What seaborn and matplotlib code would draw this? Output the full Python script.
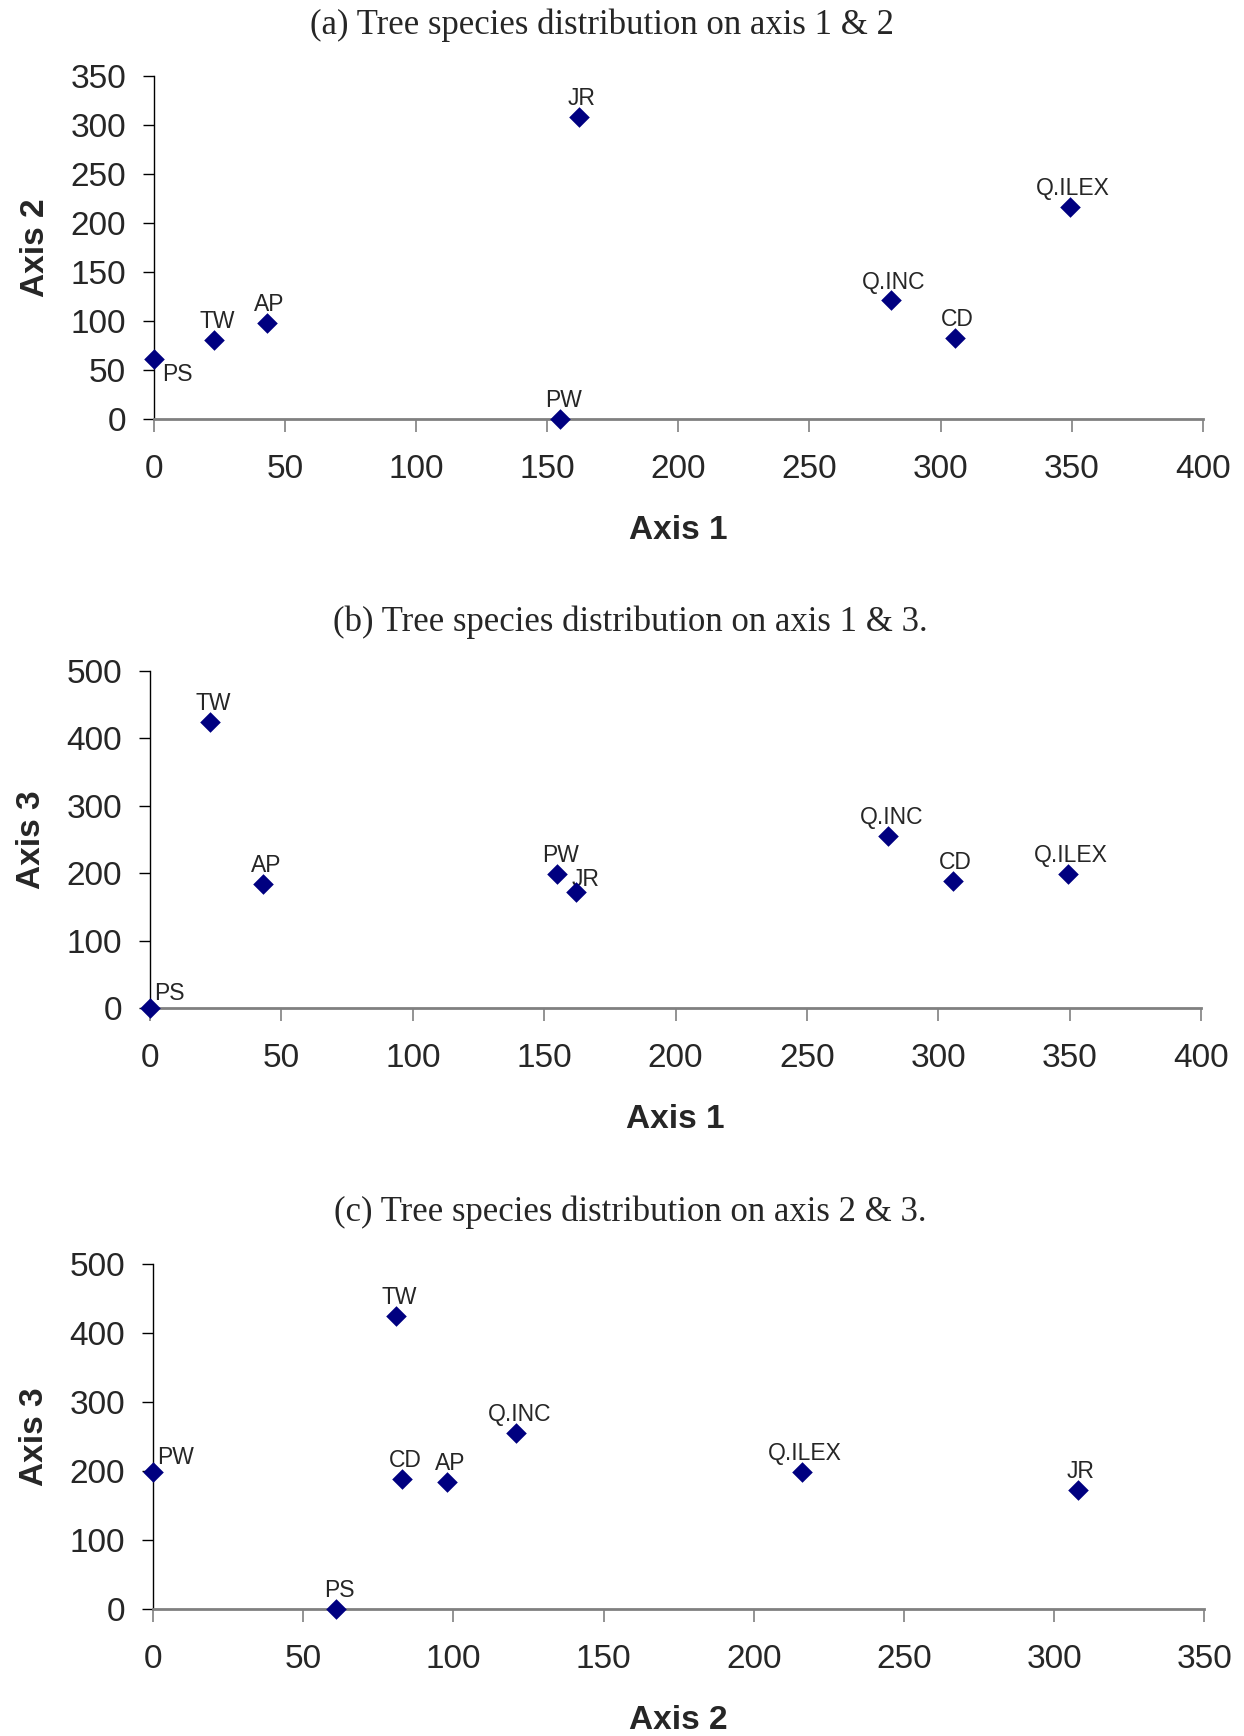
import pandas as pd
import seaborn as sns
import matplotlib.pyplot as plt

species = ['PS', 'TW', 'AP', 'PW', 'JR', 'Q.INC', 'CD', 'Q.ILEX']
axis1 = [0, 23, 43, 155, 162, 281, 305.5, 349.5]
axis2 = [61, 81, 98, 0, 308, 121, 83, 216]
axis3 = [0, 425, 184, 199, 172, 255, 188, 199]

data = pd.DataFrame({'Species': species, 'Axis 1': axis1, 'Axis 2': axis2, 'Axis 3': axis3})

sns.set_style('ticks')
plt.rcParams['font.family'] = ['Liberation Sans', 'DejaVu Sans']

NAVY = '#000080'

# label offsets (points) that differ from the default "above" placement
above = ((2, 5), 'center', 'bottom')
special = {
    'a': {'PS': ((6, -3), 'left', 'top')},
    'b': {'PS': ((3, 2), 'left', 'bottom'), 'JR': ((-3, 1), 'left', 'bottom')},
    'c': {'PW': ((3, 2), 'left', 'bottom')},
}


def species_scatter(ax, xcol, ycol, xmax, ymax, ystep, key):
    sns.scatterplot(data=data, x=xcol, y=ycol, marker='D', color=NAVY, s=110,
                    edgecolor=NAVY, linewidth=0, ax=ax, clip_on=False, zorder=5)
    for _, row in data.iterrows():
        off, ha, va = special[key].get(row['Species'], above)
        ax.annotate(row['Species'], (row[xcol], row[ycol]), xytext=off,
                    textcoords='offset points', ha=ha, va=va, fontsize=16.5,
                    annotation_clip=False)
    ax.set_xlim(0, xmax)
    ax.set_ylim(0, ymax)
    ax.set_xticks(range(0, xmax + 1, 50))
    ax.set_yticks(range(0, ymax + 1, ystep))
    ax.set_xlabel(xcol, fontsize=24, fontweight='bold', labelpad=22)
    ax.set_ylabel(ycol, fontsize=24, fontweight='bold', labelpad=14)
    ax.tick_params(axis='y', labelsize=24, length=8, width=1, color='black', pad=12)
    ax.tick_params(axis='x', labelsize=24, length=9, width=1.2, color='#808080', pad=16)
    ax.spines['top'].set_visible(False)
    ax.spines['right'].set_visible(False)
    ax.spines['left'].set_color('black')
    ax.spines['left'].set_linewidth(1)
    ax.spines['bottom'].set_color('#808080')
    ax.spines['bottom'].set_linewidth(2)


fig = plt.figure(figsize=(12.44, 17.36), dpi=100)
ax_a = fig.add_axes([0.1238, 0.7586, 0.843, 0.1976])
ax_b = fig.add_axes([0.1206, 0.4194, 0.845, 0.1941])
ax_c = fig.add_axes([0.1230, 0.0732, 0.845, 0.1987])

species_scatter(ax_a, 'Axis 1', 'Axis 2', 400, 350, 50, 'a')
species_scatter(ax_b, 'Axis 1', 'Axis 3', 400, 500, 100, 'b')
species_scatter(ax_c, 'Axis 2', 'Axis 3', 350, 500, 100, 'c')

title_font = dict(fontsize=25, family=['Liberation Serif', 'DejaVu Serif'], ha='center', va='center')
fig.text(0.484, 1 - 25 / 1736, '(a) Tree species distribution on axis 1 & 2', **title_font)
fig.text(0.507, 1 - 622 / 1736, '(b) Tree species distribution on axis 1 & 3.', **title_font)
fig.text(0.507, 1 - 1212 / 1736, '(c) Tree species distribution on axis 2 & 3.', **title_font)

fig.savefig('out.png', dpi=100)
